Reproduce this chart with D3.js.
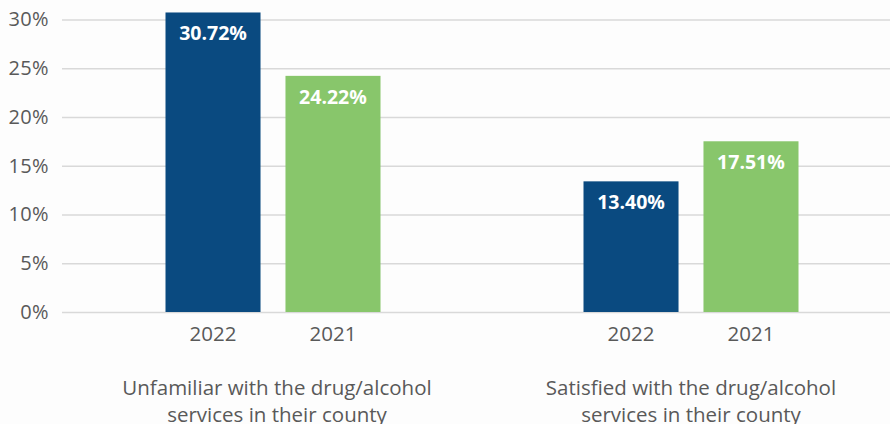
<!DOCTYPE html>
<html>
<head>
<meta charset="utf-8">
<script src="https://cdn.jsdelivr.net/npm/d3@7"></script>
<style>
  html, body { margin: 0; padding: 0; background: #fdfdfd; }
  svg { display: block; }
  text { font-family: "Open Sans", "Noto Sans", sans-serif; }
</style>
</head>
<body>
<svg id="chart" width="890" height="424"></svg>
<script>
// Survey results: share of respondents, by statement and year
const categories = [
  ["Unfamiliar with the drug/alcohol", "services in their county"],
  ["Satisfied with the drug/alcohol", "services in their county"]
];
const years = ["2022", "2021"];
const values2022 = [30.72, 13.40];
const values2021 = [24.22, 17.51];
const yTicks = [0, 5, 10, 15, 20, 25, 30];
const colors = ["#0a4a80", "#88c66b"];

const svg = d3.select("#chart");
const W = 890, H = 424;
const margin = { left: 62, right: -10, top: 19.5, bottom: 112 };

const y = d3.scaleLinear()
  .domain([0, 30])
  .range([H - margin.bottom, margin.top]);

const x0 = d3.scaleBand()
  .domain(d3.range(categories.length))
  .range([margin.left + 2, W - margin.right])
  .paddingInner(0)
  .paddingOuter(0);

const x1 = d3.scaleBand()
  .domain(years)
  .range([0, x0.bandwidth()])
  .paddingInner(0.208)
  .paddingOuter(0.846);

// gridlines and percentage ticks
const yAxis = d3.axisLeft(y)
  .tickValues(yTicks)
  .tickSize(-(W - margin.left))
  .tickFormat(d => d + "%");

const gy = svg.append("g")
  .attr("transform", `translate(${margin.left},0)`)
  .call(yAxis);
gy.select(".domain").remove();
gy.selectAll(".tick line")
  .attr("stroke", "#d9d9d9")
  .attr("stroke-width", 1.6);
gy.selectAll(".tick text")
  .attr("x", -13)
  .attr("fill", "#595959")
  .style("font-size", "20px")
  .style("letter-spacing", "0.4px");

const series = [values2022, values2021];

const groups = svg.selectAll("g.group")
  .data(categories)
  .join("g")
  .attr("class", "group")
  .attr("transform", (d, i) => `translate(${x0(i)},0)`);

years.forEach((yr, s) => {
  groups.append("rect")
    .attr("x", x1(yr))
    .attr("width", x1.bandwidth())
    .attr("y", (d, i) => y(series[s][i]))
    .attr("height", (d, i) => y(0) - y(series[s][i]))
    .attr("fill", colors[s]);

  groups.append("text")
    .attr("x", x1(yr) + x1.bandwidth() / 2)
    .attr("y", (d, i) => y(series[s][i]) + 21)
    .attr("dy", "0.35em")
    .attr("text-anchor", "middle")
    .attr("fill", "#ffffff")
    .style("font-size", "19.5px")
    .style("font-weight", "bold")
    .text((d, i) => series[s][i].toFixed(2) + "%");

  groups.append("text")
    .attr("x", x1(yr) + x1.bandwidth() / 2)
    .attr("y", y(0) + 22)
    .attr("dy", "0.35em")
    .attr("text-anchor", "middle")
    .attr("fill", "#595959")
    .style("font-size", "20.5px")
    .text(yr);
});

// category labels (two lines each)
groups.each(function(lines, i) {
  const cx = x0.bandwidth() / 2 + (i === 0 ? 4 : 0);
  const t = d3.select(this).append("text")
    .attr("x", cx)
    .attr("y", y(0) + 76)
    .attr("text-anchor", "middle")
    .attr("fill", "#595959")
    .style("font-size", "20.5px");
  lines.forEach((ln, k) => {
    t.append("tspan")
      .attr("x", cx)
      .attr("dy", k === 0 ? "0.35em" : "27px")
      .text(ln);
  });
});
</script>
</body>
</html>
